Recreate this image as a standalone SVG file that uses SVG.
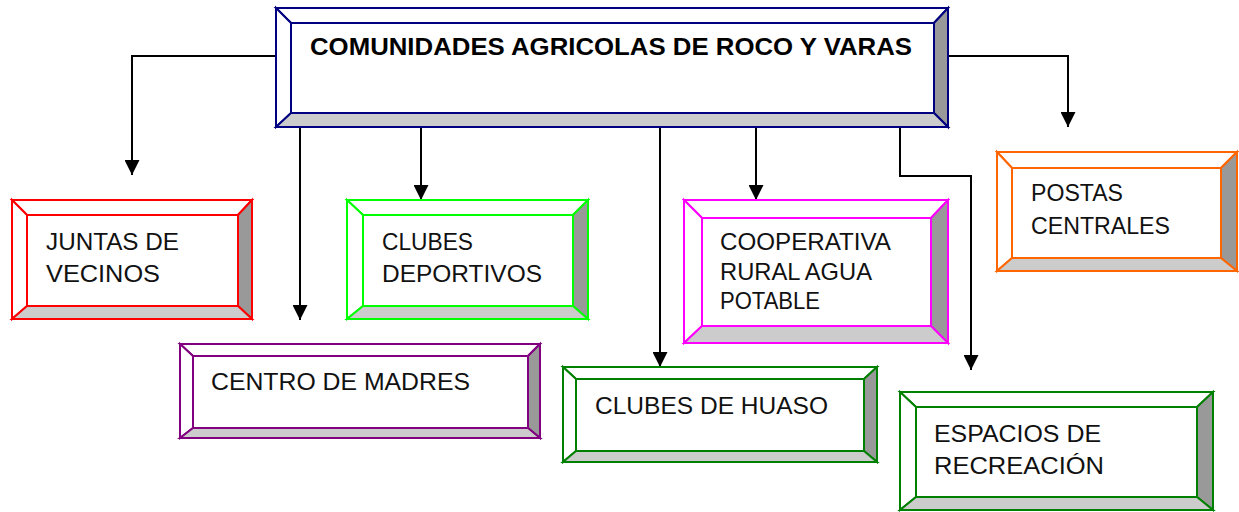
<svg xmlns="http://www.w3.org/2000/svg" width="1239" height="512" viewBox="0 0 1239 512">
<style>
.t{fill:#fff}.l{fill:#fff}.r{fill:#999}.b{fill:#ccc}
.node polygon{stroke-width:2;stroke-linejoin:miter}
.navy polygon{stroke:#000080}.red polygon{stroke:#ff0000}.lime polygon{stroke:#00ff00}
.mag polygon{stroke:#ff00ff}.org polygon{stroke:#ff6600}.pur polygon{stroke:#800080}.grn polygon{stroke:#008000}
text{font-family:"Liberation Sans",Arial,sans-serif;font-size:24px;fill:#111}
.title{font-weight:bold;fill:#000}
.conn path{fill:none;stroke:#000;stroke-width:2}
</style>
<defs>
<marker id="ah" viewBox="0 0 10 10" refX="10" refY="5" markerWidth="15" markerHeight="15" markerUnits="userSpaceOnUse" orient="auto"><path d="M0,0 L10,5 L0,10 z" fill="#000"/></marker>
</defs>
<rect width="1239" height="512" fill="#fff"/>
<g class="conn">
<path d="M276,56 H132 V175" marker-end="url(#ah)"/>
<path d="M300,127 V320" marker-end="url(#ah)"/>
<path d="M421,127 V200" marker-end="url(#ah)"/>
<path d="M660,127 V367" marker-end="url(#ah)"/>
<path d="M756,127 V200" marker-end="url(#ah)"/>
<path d="M900,127 V176 H971 V370" marker-end="url(#ah)"/>
<path d="M949,56 H1068 V127" marker-end="url(#ah)"/>
</g>
<g id="main" class="node navy">
<polygon class="t" points="276,8 948,8 934,23 291,23"/>
<polygon class="l" points="276,8 291,23 291,113 276,127"/>
<polygon class="r" points="948,8 948,127 934,113 934,23"/>
<polygon class="b" points="276,127 948,127 934,113 291,113"/>
<text class="title" x="310" y="55" textLength="602" lengthAdjust="spacingAndGlyphs">COMUNIDADES AGRICOLAS DE ROCO Y VARAS</text>
</g>
<g id="juntas" class="node red">
<polygon class="t" points="12,200 252,200 238,215 27,215"/>
<polygon class="l" points="12,200 27,215 27,306 12,319"/>
<polygon class="r" points="252,200 252,319 238,306 238,215"/>
<polygon class="b" points="12,319 252,319 238,306 27,306"/>
<text x="46" y="250" textLength="133" lengthAdjust="spacingAndGlyphs">JUNTAS DE</text>
<text x="46" y="282" textLength="114" lengthAdjust="spacingAndGlyphs">VECINOS</text>
</g>
<g id="deportivos" class="node lime">
<polygon class="t" points="347,200 588,200 573,215 363,215"/>
<polygon class="l" points="347,200 363,215 363,306 347,319"/>
<polygon class="r" points="588,200 588,319 573,306 573,215"/>
<polygon class="b" points="347,319 588,319 573,306 363,306"/>
<text x="382" y="250" textLength="91" lengthAdjust="spacingAndGlyphs">CLUBES</text>
<text x="382" y="282" textLength="160" lengthAdjust="spacingAndGlyphs">DEPORTIVOS</text>
</g>
<g id="cooperativa" class="node mag">
<polygon class="t" points="684,200 948,200 931,218 702,218"/>
<polygon class="l" points="684,200 702,218 702,326 684,343"/>
<polygon class="r" points="948,200 948,343 931,326 931,218"/>
<polygon class="b" points="684,343 948,343 931,326 702,326"/>
<text x="720" y="250" textLength="171" lengthAdjust="spacingAndGlyphs">COOPERATIVA</text>
<text x="720" y="280" textLength="152" lengthAdjust="spacingAndGlyphs">RURAL AGUA</text>
<text x="720" y="309" textLength="100" lengthAdjust="spacingAndGlyphs">POTABLE</text>
</g>
<g id="postas" class="node org">
<polygon class="t" points="997,152 1237,152 1221,168 1012,168"/>
<polygon class="l" points="997,152 1012,168 1012,258 997,271"/>
<polygon class="r" points="1237,152 1237,271 1221,258 1221,168"/>
<polygon class="b" points="997,271 1237,271 1221,258 1012,258"/>
<text x="1031" y="201" textLength="92" lengthAdjust="spacingAndGlyphs">POSTAS</text>
<text x="1031" y="234" textLength="139" lengthAdjust="spacingAndGlyphs">CENTRALES</text>
</g>
<g id="centro" class="node pur">
<polygon class="t" points="180,344 540,344 528,356 193,356"/>
<polygon class="l" points="180,344 193,356 193,428 180,438"/>
<polygon class="r" points="540,344 540,438 528,428 528,356"/>
<polygon class="b" points="180,438 540,438 528,428 193,428"/>
<text x="211" y="390" textLength="259" lengthAdjust="spacingAndGlyphs">CENTRO DE MADRES</text>
</g>
<g id="huaso" class="node grn">
<polygon class="t" points="563,367 877,367 864,379 576,379"/>
<polygon class="l" points="563,367 576,379 576,451 563,462"/>
<polygon class="r" points="877,367 877,462 864,451 864,379"/>
<polygon class="b" points="563,462 877,462 864,451 576,451"/>
<text x="595" y="414" textLength="233" lengthAdjust="spacingAndGlyphs">CLUBES DE HUASO</text>
</g>
<g id="espacios" class="node grn">
<polygon class="t" points="900,392 1213,392 1197,407 916,407"/>
<polygon class="l" points="900,392 916,407 916,497 900,510"/>
<polygon class="r" points="1213,392 1213,510 1197,497 1197,407"/>
<polygon class="b" points="900,510 1213,510 1197,497 916,497"/>
<text x="934" y="442" textLength="167" lengthAdjust="spacingAndGlyphs">ESPACIOS DE</text>
<text x="934" y="474" textLength="170" lengthAdjust="spacingAndGlyphs">RECREACIÓN</text>
</g>
</svg>
